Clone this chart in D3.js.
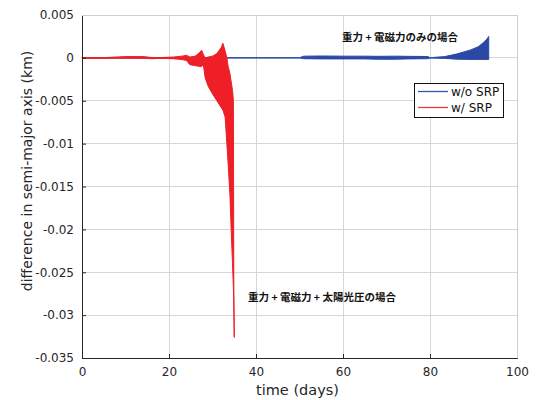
<!DOCTYPE html>
<html>
<head>
<meta charset="utf-8">
<script src="https://cdn.jsdelivr.net/npm/d3@7"></script>
<style>
html,body{margin:0;padding:0;background:#fff;}
svg{display:block;}
</style>
</head>
<body>
<svg id="chart" width="536" height="400"></svg>
<script>
// ---- data ----
const xTicks = [0, 20, 40, 60, 80, 100];
const yTicks = [0.005, 0, -0.005, -0.01, -0.015, -0.02, -0.025, -0.03, -0.035];
const yTickLabels = ["0.005", "0", "-0.005", "-0.01", "-0.015", "-0.02", "-0.025", "-0.03", "-0.035"];

// w/o SRP (blue): time (days), envelope upper / lower (km)
const blueTime  = [0, 10, 20, 30, 40, 50, 51, 55, 60, 65, 68, 72, 75, 79.5, 80, 83.4, 86.1, 89.2, 91.1, 92.3, 93.1, 93.5];
const blueUpper = [0.00002, 0.00002, 0.00002, 0.00002, 0.00002, 0.00002, 0.0002, 0.00022, 0.0002, 0.0002, 0.00018, 0.0002, 0.00018, 0.00016, 0.00002, 0.00015, 0.00045, 0.0009, 0.0013, 0.0018, 0.0022, 0.0025];
const blueLower = [-0.00002, -0.00002, -0.00002, -0.00002, -0.00002, -0.00002, -0.0001, -0.00012, -0.00012, -0.00012, -0.00016, -0.00016, -0.00012, -0.0001, -0.00002, -0.00006, -0.00015, -0.00018, -0.00018, -0.00018, -0.00018, -0.00018];

// w/ SRP (red): time (days), envelope upper / lower (km)
const redTime  = [0, 5, 8, 10, 14, 16, 18, 21, 23, 24, 24.8, 26, 27, 27.5, 27.9, 28.3, 29, 30, 31, 32, 32.4, 32.9, 33.3, 33.6, 34.0, 34.3, 34.6, 34.8, 34.9, 35.0];
const redUpper = [0.00005, 0.00003, 0.0001, 0.00015, 0.00015, 0.00005, 0.00003, 0.0001, 0.0002, 0.0003, 0.0001, 0.0002, 0.0006, 0.0009, 0.0004, 0.0000, 0.0001, 0.0002, 0.0005, 0.0012, 0.0017, 0.0008, 0.0000, -0.0010, -0.0018, -0.0028, -0.0038, -0.0049, -0.0267, -0.0320];
const redLower = [-0.00005, -0.00005, -0.00003, -0.00003, -0.00005, -0.0001, -0.00005, -0.0001, -0.0002, -0.0003, -0.0008, -0.0009, -0.0010, -0.0010, -0.0008, -0.0023, -0.0033, -0.0042, -0.0050, -0.0058, -0.0061, -0.0069, -0.0100, -0.0124, -0.0159, -0.0201, -0.0240, -0.0268, -0.0290, -0.0326];

const seriesNames = ["w/o SRP", "w/ SRP"];
const seriesColors = ["#2B48A4", "#EE1F26"];
const legendColors = ["#3556B8", "#F03A3A"];
const annotations = ["重力 + 電磁力のみの場合", "重力 + 電磁力 + 太陽光圧の場合"];
const xLabel = "time (days)";
const yLabel = "difference in semi-major axis (km)";

// ---- layout ----
const svg = d3.select("#chart");
const L = 82, R = 517, T = 15, B = 358;
const x = d3.scaleLinear().domain([0, 100]).range([L, R]);
const y = d3.scaleLinear().domain([-0.035, 0.005]).range([B, T]);
const font = "'DejaVu Sans', sans-serif";
const textColor = "#262626";

// grid
const grid = svg.append("g");
grid.selectAll("line.vx").data(xTicks.slice(1)).enter().append("line")
  .attr("x1", d => x(d)).attr("x2", d => x(d)).attr("y1", T).attr("y2", B)
  .attr("stroke", "#d6d6d6").attr("stroke-width", 1).attr("shape-rendering", "crispEdges");
grid.selectAll("line.hy").data(yTicks.slice(0, -1)).enter().append("line")
  .attr("x1", L).attr("x2", R).attr("y1", d => y(d)).attr("y2", d => y(d))
  .attr("stroke", "#d6d6d6").attr("stroke-width", 1).attr("shape-rendering", "crispEdges");

// series
function drawSeries(time, upper, lower, color) {
  const pts = time.map((t, i) => ({t, u: upper[i], l: lower[i]}));
  const area = d3.area().x(d => x(d.t)).y0(d => y(d.l)).y1(d => y(d.u));
  svg.append("path").datum(pts).attr("d", area)
    .attr("fill", color).attr("stroke", color).attr("stroke-width", 1).attr("stroke-linejoin", "round");
}
drawSeries(blueTime, blueUpper, blueLower, seriesColors[0]);
drawSeries(redTime, redUpper, redLower, seriesColors[1]);

// axes
const xAxis = d3.axisBottom(x).tickValues(xTicks).tickSize(-4).tickPadding(9).tickFormat(d3.format("d"));
const yAxis = d3.axisLeft(y).tickValues(yTicks).tickSize(-4).tickPadding(8).tickFormat((d, i) => yTickLabels[i]);
const gx = svg.append("g").attr("transform", `translate(0,${B})`).call(xAxis);
const gy = svg.append("g").attr("transform", `translate(${L},0)`).call(yAxis);
[gx, gy].forEach(g => {
  g.select(".domain").attr("stroke", "#262626");
  g.selectAll(".tick line").attr("stroke", "#262626");
  g.selectAll("text").attr("font-family", font).attr("font-size", 12).attr("fill", textColor);
});
// top/right frame
svg.append("line").attr("x1", L).attr("x2", R).attr("y1", T).attr("y2", T)
  .attr("stroke", "#cfcfcf").attr("shape-rendering", "crispEdges");
svg.append("line").attr("x1", R).attr("x2", R).attr("y1", T).attr("y2", B)
  .attr("stroke", "#cfcfcf").attr("shape-rendering", "crispEdges");

// axis labels
svg.append("text").attr("x", (L + R) / 2 - 2).attr("y", 395)
  .attr("text-anchor", "middle").attr("font-family", font).attr("font-size", 14.5).attr("fill", textColor).text(xLabel);
svg.append("text").attr("transform", "translate(32,171) rotate(-90)")
  .attr("text-anchor", "middle").attr("font-family", font).attr("font-size", 14).attr("fill", textColor).text(yLabel);

// annotations
const cjk = "'Noto Sans CJK JP', sans-serif";
svg.append("text").attr("x", 342).attr("y", 41).attr("font-family", cjk).attr("font-weight", "bold")
  .attr("font-size", 10.5).attr("fill", "#111").text(annotations[0]);
svg.append("text").attr("x", 248).attr("y", 301).attr("font-family", cjk).attr("font-weight", "bold")
  .attr("font-size", 10.5).attr("fill", "#111").text(annotations[1]);

// legend
const lg = svg.append("g");
lg.append("rect").attr("x", 414.5).attr("y", 83.5).attr("width", 89).attr("height", 34)
  .attr("fill", "#fff").attr("stroke", "#111").attr("stroke-width", 1);
seriesNames.forEach((n, i) => {
  const yy = 91.5 + i * 16;
  lg.append("line").attr("x1", 418).attr("x2", 448).attr("y1", yy).attr("y2", yy)
    .attr("stroke", legendColors[i]).attr("stroke-width", 1.3);
  lg.append("text").attr("x", 451).attr("y", yy + 4.5).attr("font-family", font).attr("font-size", 12)
    .attr("fill", "#111").text(n);
});
</script>
</body>
</html>
